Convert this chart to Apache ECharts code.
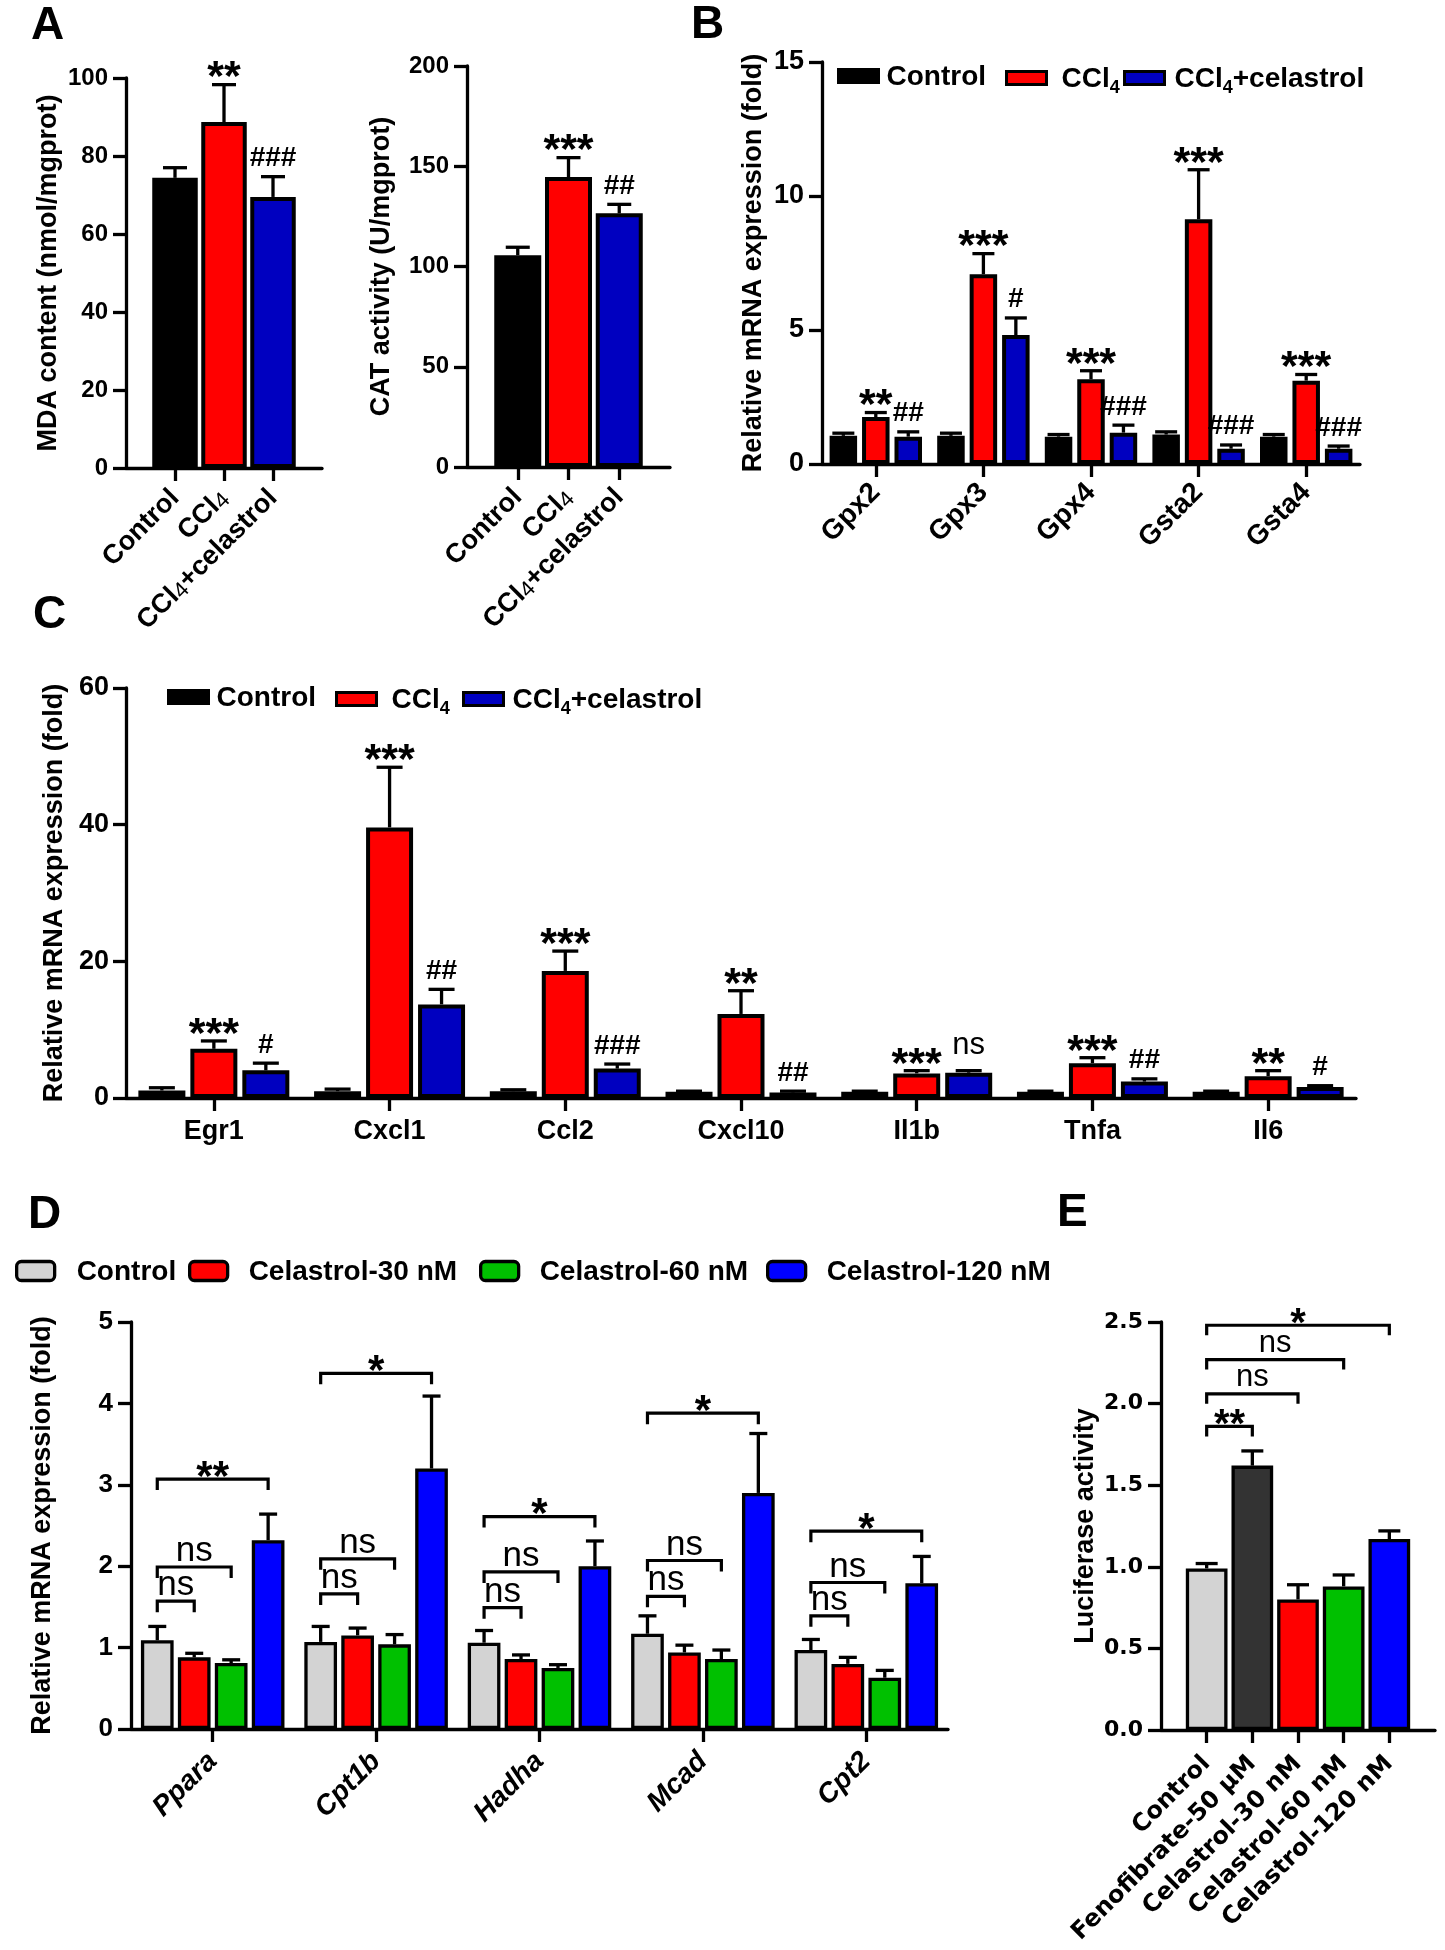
<!DOCTYPE html>
<html><head><meta charset="utf-8">
<script src="https://cdn.jsdelivr.net/npm/echarts@6.0.0/dist/echarts.min.js"></script>
<style>html,body{margin:0;padding:0;background:#fff}#c{width:1445px;height:1950px}</style>
</head><body><div id="c"></div>
<script>
// ---------------- DATA ----------------
// Panel A
const aGroups = ['Control', 'CCl4', 'CCl4+celastrol'];
const mdaMean = [74.4, 88.7, 69.5];
const mdaErr  = [77.0, 98.3, 74.7];
const mdaSig  = ['', '**', '###'];
const catMean = [105.6, 144.6, 126.5];
const catErr  = [109.6, 154.3, 131.0];
const catSig  = ['', '***', '##'];
// Panel B
const bGenes = ['Gpx2', 'Gpx3', 'Gpx4', 'Gsta2', 'Gsta4'];
const bControl    = [1.05, 1.05, 1.02, 1.10, 1.02];
const bControlErr = [1.15, 1.15, 1.10, 1.20, 1.10];
const bCCl4       = [1.75, 7.08, 3.16, 9.13, 3.11];
const bCCl4Err    = [1.92, 7.85, 3.48, 10.98, 3.34];
const bCel        = [1.02, 4.81, 1.17, 0.57, 0.57];
const bCelErr     = [1.20, 5.45, 1.45, 0.71, 0.67];
const bCCl4Sig = ['**', '***', '***', '***', '***'];
const bCelSig  = ['##', '#', '###', '###', '###'];
// Panel C
const cGenes = ['Egr1', 'Cxcl1', 'Ccl2', 'Cxcl10', 'Il1b', 'Tnfa', 'Il6'];
const cControl    = [1.1, 1.0, 1.0, 0.9, 0.9, 0.9, 0.9];
const cControlErr = [1.5, 1.3, 1.2, 1.0, 1.0, 1.0, 1.0];
const cCCl4       = [7.2, 39.6, 18.6, 12.3, 3.6, 5.1, 3.2];
const cCCl4Err    = [8.35, 48.4, 21.5, 15.7, 4.0, 5.9, 4.0];
const cCel        = [4.05, 13.7, 4.3, 0.8, 3.7, 2.4, 1.6];
const cCelErr     = [5.1, 15.9, 4.97, 1.0, 4.0, 2.8, 1.8];
const cCCl4Sig = ['***', '***', '***', '**', '***', '***', '**'];
const cCelSig  = ['#', '##', '###', '##', 'ns', '##', '#'];
// Panel D
const dGenes = ['Ppara', 'Cpt1b', 'Hadha', 'Mcad', 'Cpt2'];
const dControl    = [1.09, 1.07, 1.06, 1.17, 0.97];
const dControlErr = [1.26, 1.26, 1.21, 1.39, 1.10];
const d30         = [0.88, 1.15, 0.86, 0.94, 0.80];
const d30Err      = [0.93, 1.24, 0.91, 1.03, 0.88];
const d60         = [0.81, 1.04, 0.75, 0.86, 0.63];
const d60Err      = [0.85, 1.16, 0.79, 0.97, 0.72];
const d120        = [2.32, 3.20, 2.00, 2.90, 1.79];
const d120Err     = [2.64, 4.09, 2.31, 3.63, 2.12];
const dBr30  = [1.57, 1.66, 1.49, 1.63, 1.39];
const dBr60  = [1.99, 2.09, 1.93, 2.07, 1.80];
const dBr120 = [3.07, 4.37, 2.61, 3.88, 2.43];
const dSig30  = ['ns', 'ns', 'ns', 'ns', 'ns'];
const dSig60  = ['ns', 'ns', 'ns', 'ns', 'ns'];
const dSig120 = ['**', '*', '*', '*', '*'];
const dSeriesNames = ['Control', 'Celastrol-30 nM', 'Celastrol-60 nM', 'Celastrol-120 nM'];
// Panel E
const eGroups = ['Control', 'Fenofibrate-50 \u03bcM', 'Celastrol-30 nM', 'Celastrol-60 nM', 'Celastrol-120 nM'];
const eMean = [0.99, 1.62, 0.80, 0.88, 1.17];
const eErr  = [1.02, 1.71, 0.89, 0.95, 1.22];
const eBracket = [1.86, 2.06, 2.27, 2.48];   // Control vs groups 2..5
const eSig = ['**', 'ns', 'ns', '*'];

// ---------------- STYLE ----------------
const FONT = '"Liberation Sans", Arial, Helvetica, sans-serif';
const WIDE = '"DejaVu Sans", Verdana, sans-serif';
const NARROW = '"Liberation Sans Narrow", "Arial Narrow", "Liberation Sans", sans-serif';
const BLACK = '#000000', RED = '#ff0000', NAVY = '#0000c0', BLUE = '#0000ff',
      GREEN = '#00c000', GREY = '#d3d3d3', DARK = '#333333';
const AXW = 3.3;

const grids = [
  {left: 126, top: 78, width: 196, height: 390},    // A1
  {left: 467, top: 66, width: 203, height: 401},    // A2
  {left: 822, top: 62, width: 538, height: 402},    // B
  {left: 126, top: 688, width: 1230, height: 410},  // C
  {left: 131, top: 1322, width: 817, height: 407},  // D
  {left: 1161, top: 1322, width: 274, height: 408}  // E
];

// ---------------- HELPERS ----------------
const isPad = v => v === '_padL' || v === '_padR';
const padCats = arr => ['_padL'].concat(arr, ['_padR']);
const padVals = arr => ['-'].concat(arr, ['-']);
function subFmt(v) {
  if (isPad(v)) return '';
  return String(v).split('CCl4').map(t => t ? '{m|' + t + '}' : '').join('{m|CCl}{s|4}');
}

function sigText(s, x, yb, fam, size) {
  let font, y;
  if (s[0] === '*') { size = size || 43; font = 'bold ' + size + 'px ' + FONT; y = yb + 0.07 * size; }
  else if (s[0] === '#') { size = size || 28; font = 'bold ' + size + 'px ' + FONT; y = yb - 0.33 * size; }
  else { size = size || 31; font = size + 'px ' + (fam || FONT); y = yb - 0.33 * size; }
  return {type: 'text', z2: 20, style: {text: s, x: x, y: y, font: font, fill: '#000',
          align: 'center', verticalAlign: 'middle', textAlign: 'center', textVerticalAlign: 'middle'}};
}

function yAx(gi, max, interval, name, nameGap, lab) {
  return {
    type: 'value', gridIndex: gi, min: 0, max: max, interval: interval,
    name: name, nameLocation: 'middle', nameGap: nameGap, nameRotate: 90,
    nameTextStyle: {fontFamily: (lab.nameFam || FONT), fontWeight: 'bold', fontSize: lab.nameSize || 27, color: '#000'},
    axisLine: {show: true, lineStyle: {color: '#000', width: AXW}},
    axisTick: {show: true, length: 13, lineStyle: {color: '#000', width: AXW}},
    axisLabel: {margin: lab.margin || 18, color: '#000', fontFamily: lab.fam || FONT, fontWeight: 'bold',
                fontSize: lab.size, formatter: lab.fmt},
    splitLine: {show: false}
  };
}

function xAx(gi, cats, o) {
  return {
    type: 'category', gridIndex: gi, data: cats, boundaryGap: !o.padded,
    axisLine: {show: true, onZero: false, lineStyle: {color: '#000', width: AXW}},
    axisTick: {show: true, length: o.tickLen || 13, alignWithLabel: true,
               interval: o.padded ? function (i, v) { return !isPad(v); } : 0,
               lineStyle: {color: '#000', width: AXW}},
    axisLabel: Object.assign({interval: 0, color: '#000', fontFamily: FONT, fontWeight: 'bold'}, o.label),
    splitLine: {show: false}
  };
}

function barS(gi, name, data, color, bw, gap, border) {
  return {type: 'bar', name: name, xAxisIndex: gi, yAxisIndex: gi, data: data, barWidth: bw, barGap: gap,
          itemStyle: {color: color, borderColor: '#000', borderWidth: border}, z: 2, silent: true};
}

function errS(gi, means, errs, sigs, dx, cap, shift, lw) {
  return {
    type: 'custom', xAxisIndex: gi, yAxisIndex: gi, z: 5, clip: false, silent: true,
    data: means.map((m, i) => [i + (shift || 0), m, errs[i]]),
    renderItem: function (params, api) {
      const c = api.value(0), m = api.value(1), e = api.value(2);
      const p0 = api.coord([c, m]), p1 = api.coord([c, e]);
      const x = p0[0] + dx;
      const w = lw || AXW;
      const ch = [
        {type: 'line', shape: {x1: x, y1: p0[1], x2: x, y2: p1[1]}, style: {stroke: '#000', lineWidth: w}},
        {type: 'line', shape: {x1: x - cap / 2, y1: p1[1], x2: x + cap / 2, y2: p1[1]}, style: {stroke: '#000', lineWidth: w}}
      ];
      const s = sigs ? sigs[params.dataIndex] : '';
      if (s) ch.push(sigText(s, x, p1[1] - (s === 'ns' ? 15 : 9)));
      return {type: 'group', children: ch};
    }
  };
}

function bracket(x1, x2, y, leg) {
  return {type: 'polyline', shape: {points: [[x1, y + leg], [x1, y], [x2, y], [x2, y + leg]]},
          style: {stroke: '#000', lineWidth: 3.2, fill: null}};
}

const legRich = {
  m: {fontFamily: FONT, fontWeight: 'bold', fontSize: 28, lineHeight: 30, verticalAlign: 'bottom', color: '#000'},
  s: {fontFamily: FONT, fontWeight: 'bold', fontSize: 18, lineHeight: 10, verticalAlign: 'top', padding: [16, 0, 0, 0], color: '#000'}
};
function legendItem(name, left, top, color, o) {
  return {
    show: true, left: left, top: top, padding: 0, orient: 'horizontal', selectedMode: false,
    data: [name], itemWidth: o.w, itemHeight: o.h, icon: o.icon || 'rect',
    itemStyle: {color: color, borderColor: '#000', borderWidth: o.bw},
    formatter: function (n) { return subFmt(n); },
    textStyle: {color: '#000', fontFamily: FONT, fontWeight: 'bold', fontSize: 28, padding: [0, 0, 0, o.tp || 3], rich: legRich}
  };
}

// grouped offsets
function offs(n, bw, gap) { const p = bw * (1 + gap); return Array.from({length: n}, (_, k) => (k - (n - 1) / 2) * p); }

// ---------------- PANEL CONFIG ----------------
const A1_BW = 45.5, A2_BW = 47;
const B_BW = 27.5, B_GAP = 0.18, bOff = offs(3, B_BW, B_GAP);
const C_BW = 47, C_GAP = 0.106, cOff = offs(3, C_BW, C_GAP);
const D_BW = 32.7, D_GAP = 0.13, dOff = offs(4, D_BW, D_GAP);
const E_BW = 41.7;

const aRich = {
  m: {fontFamily: FONT, fontWeight: 'bold', fontSize: 27, color: '#000', lineHeight: 30},
  s: {fontFamily: FONT, fontWeight: 'normal', fontSize: 22, color: '#000', lineHeight: 26, verticalAlign: 'bottom'}
};
const aColors = [BLACK, RED, NAVY];
const eColors = [GREY, DARK, RED, GREEN, BLUE];

const xAxes = [
  xAx(0, padCats(aGroups), {padded: true, label: {rotate: 45, margin: 26, formatter: subFmt, rich: aRich}}),
  xAx(1, padCats(aGroups), {padded: true, label: {rotate: 45, margin: 26, formatter: subFmt, rich: aRich}}),
  xAx(2, bGenes, {label: {rotate: 45, margin: 24, fontSize: 28}}),
  xAx(3, cGenes, {label: {rotate: 0, margin: 20, fontSize: 27}}),
  xAx(4, dGenes, {label: {rotate: 45, margin: 28, fontSize: 28, fontStyle: 'italic'}}),
  xAx(5, padCats(eGroups), {padded: true, label: {rotate: 45, margin: 30, fontFamily: WIDE, fontSize: 24,
      formatter: v => isPad(v) ? '' : v}})
];
const yAxes = [
  yAx(0, 100, 20, 'MDA content (nmol/mgprot)', 64, {size: 24}),
  yAx(1, 200, 50, 'CAT activity (U/mgprot)', 72, {size: 24}),
  yAx(2, 15, 5, 'Relative mRNA expression (fold)', 55, {size: 27}),
  yAx(3, 60, 20, 'Relative mRNA expression (fold)', 55, {size: 27, margin: 17}),
  yAx(4, 5, 1, 'Relative mRNA expression (fold)', 75, {size: 26}),
  yAx(5, 2.5, 0.5, 'Luciferase activity', 62, {size: 22, fam: WIDE, fmt: v => v.toFixed(1)})
];

const series = [];
// A1
series.push(barS(0, 'MDA', padVals(mdaMean.map((v, i) => ({value: v, itemStyle: {color: aColors[i]}}))), BLACK, A1_BW, '0%', 4));
series.push(errS(0, mdaMean, mdaErr, mdaSig, 0, 24, 1));
// A2
series.push(barS(1, 'CAT', padVals(catMean.map((v, i) => ({value: v, itemStyle: {color: aColors[i]}}))), BLACK, A2_BW, '0%', 4));
series.push(errS(1, catMean, catErr, catSig, 0, 24, 1));
// B
series.push(barS(2, 'Control', bControl, BLACK, B_BW, (B_GAP * 100) + '%', 4));
series.push(barS(2, 'CCl4', bCCl4, RED, B_BW, (B_GAP * 100) + '%', 4));
series.push(barS(2, 'CCl4+celastrol', bCel, NAVY, B_BW, (B_GAP * 100) + '%', 4));
series.push(errS(2, bControl, bControlErr, null, bOff[0], 22));
series.push(errS(2, bCCl4, bCCl4Err, bCCl4Sig, bOff[1], 22));
series.push(errS(2, bCel, bCelErr, bCelSig, bOff[2], 22));
// C
series.push(barS(3, 'Control', cControl, BLACK, C_BW, (C_GAP * 100) + '%', 4));
series.push(barS(3, 'CCl4', cCCl4, RED, C_BW, (C_GAP * 100) + '%', 4));
series.push(barS(3, 'CCl4+celastrol', cCel, NAVY, C_BW, (C_GAP * 100) + '%', 4));
series.push(errS(3, cControl, cControlErr, null, cOff[0], 26));
series.push(errS(3, cCCl4, cCCl4Err, cCCl4Sig, cOff[1], 26));
series.push(errS(3, cCel, cCelErr, cCelSig, cOff[2], 26));
// D
const dVals = [dControl, d30, d60, d120], dErrs = [dControlErr, d30Err, d60Err, d120Err];
const dColors = [GREY, RED, GREEN, BLUE];
dVals.forEach((v, k) => series.push(barS(4, dSeriesNames[k], v, dColors[k], D_BW, (D_GAP * 100) + '%', 3.3)));
dVals.forEach((v, k) => series.push(errS(4, v, dErrs[k], null, dOff[k], 18)));
series.push({
  type: 'custom', xAxisIndex: 4, yAxisIndex: 4, z: 6, clip: false, silent: true,
  data: dGenes.map((g, i) => [i, dBr30[i], dBr60[i], dBr120[i]]),
  renderItem: function (params, api) {
    const c = api.value(0), i = params.dataIndex;
    const labs = [dSig30[i], dSig60[i], dSig120[i]];
    const ch = [];
    for (let j = 0; j < 3; j++) {
      const p = api.coord([c, api.value(1 + j)]);
      const x1 = p[0] + dOff[0], x2 = p[0] + dOff[j + 1];
      ch.push(bracket(x1, x2, p[1], 11));
      ch.push(sigText(labs[j], (x1 + x2) / 2, p[1] - 4, NARROW, labs[j] === 'ns' ? 35 : 42));
    }
    return {type: 'group', children: ch};
  }
});
// E
series.push(barS(5, 'Luciferase', padVals(eMean.map((v, i) => ({value: v, itemStyle: {color: eColors[i]}}))), GREY, E_BW, '0%', 3.3));
series.push(errS(5, eMean, eErr, null, 0, 22, 1));
series.push({
  type: 'custom', xAxisIndex: 5, yAxisIndex: 5, z: 6, clip: false, silent: true,
  data: eBracket.map((h, k) => [1, h, k + 2]),
  renderItem: function (params, api) {
    const p0 = api.coord([api.value(0), api.value(1)]);
    const p1 = api.coord([api.value(2), api.value(1)]);
    const s = eSig[params.dataIndex];
    return {type: 'group', children: [
      bracket(p0[0], p1[0], p0[1], 10),
      sigText(s, (p0[0] + p1[0]) / 2, p0[1] - (s === 'ns' ? 6 : 3), FONT, s === 'ns' ? 31 : 40)
    ]};
  }
});

const letterStyle = {fontFamily: FONT, fontWeight: 'bold', fontSize: 46, color: '#000'};
const titles = [['A', 31, 3], ['B', 691, 2], ['C', 33, 592], ['D', 28, 1192], ['E', 1057, 1190]]
  .map(t => ({text: t[0], left: t[1], top: t[2], padding: 0, textStyle: letterStyle}));

const legends = [
  legendItem('Control', 837, 63, BLACK, {w: 40, h: 13, bw: 3, tp: 3}),
  legendItem('CCl4', 1005, 63, RED, {w: 40, h: 13, bw: 3, tp: 10}),
  legendItem('CCl4+celastrol', 1123, 63, NAVY, {w: 40, h: 13, bw: 3, tp: 5}),
  legendItem('Control', 167, 684, BLACK, {w: 40, h: 13, bw: 3, tp: 3}),
  legendItem('CCl4', 335, 684, RED, {w: 40, h: 13, bw: 3, tp: 10}),
  legendItem('CCl4+celastrol', 462, 684, NAVY, {w: 40, h: 13, bw: 3, tp: 4}),
  legendItem('Control', 15, 1258, GREY, {w: 38, h: 19, bw: 3.3, tp: 17, icon: 'roundRect'}),
  legendItem('Celastrol-30 nM', 188, 1258, RED, {w: 38, h: 19, bw: 3.3, tp: 16, icon: 'roundRect'}),
  legendItem('Celastrol-60 nM', 479, 1258, GREEN, {w: 38, h: 19, bw: 3.3, tp: 16, icon: 'roundRect'}),
  legendItem('Celastrol-120 nM', 766, 1258, BLUE, {w: 38, h: 19, bw: 3.3, tp: 16, icon: 'roundRect'})
];

const chart = echarts.init(document.getElementById('c'), null, {renderer: 'canvas', width: 1445, height: 1950});
chart.setOption({
  animation: false,
  backgroundColor: '#ffffff',
  title: titles,
  legend: legends,
  grid: grids.map(g => Object.assign({containLabel: false, outerBoundsMode: 'none'}, g)),
  xAxis: xAxes,
  yAxis: yAxes,
  series: series
});
</script>
</body></html>
